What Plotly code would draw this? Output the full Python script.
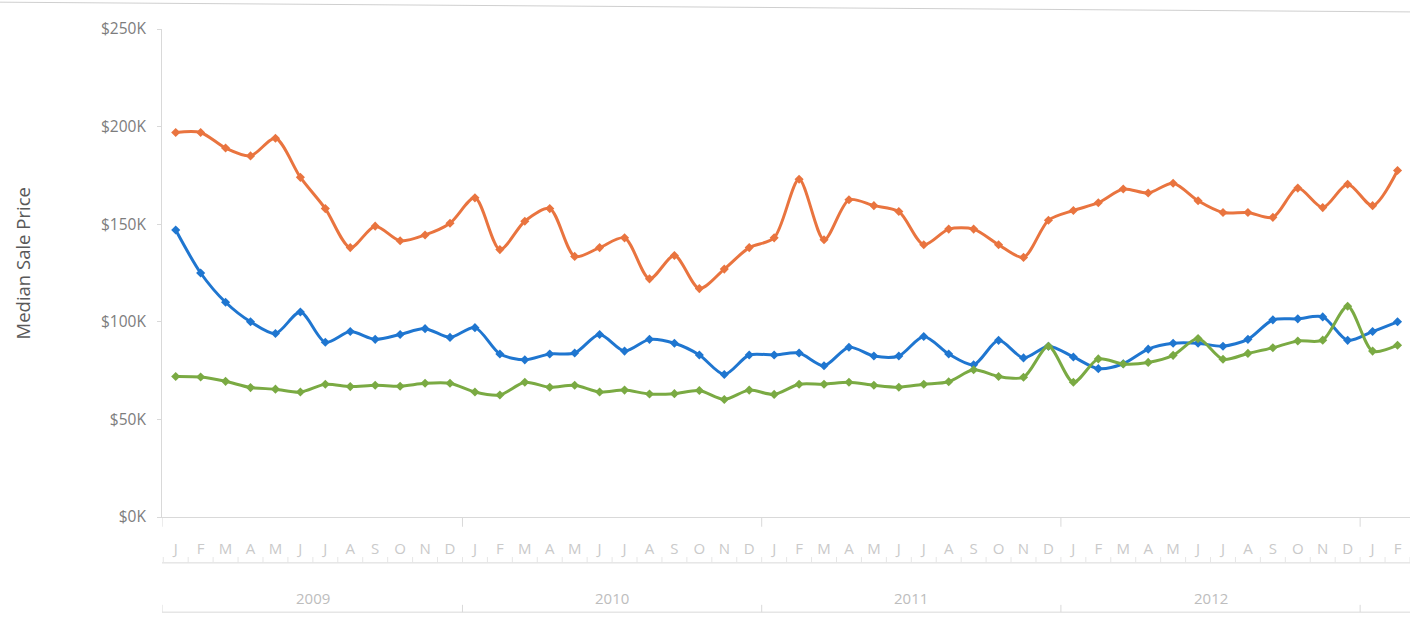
import plotly.graph_objects as go

# ---- data (values in $K) ----
months = ["J","F","M","A","M","J","J","A","S","O","N","D"] * 4 + ["J","F"]
years = ["2009"] * 12 + ["2010"] * 12 + ["2011"] * 12 + ["2012"] * 12 + ["2013"] * 2
year_labels = ["2009", "2010", "2011", "2012"]

orange = [197, 197, 189, 185, 194, 174, 158, 138, 149, 141.5, 144.5, 150.5,
          163.5, 137, 151.5, 158, 133.5, 138, 143, 122, 134, 117, 127, 138,
          143, 173, 142, 162.5, 159.5, 156.5, 139.5, 147.5, 147.5, 139.5, 133, 152,
          157, 161, 168, 166, 171, 162, 156, 156, 153.5, 168.5, 158.5, 170.5,
          159.5, 177.5]
blue = [147, 125, 110, 100, 94, 105, 89.5, 95, 91, 93.5, 96.5, 92,
        97, 83.5, 80.5, 83.5, 84, 93.5, 85, 91, 89, 83, 73, 83,
        83, 84, 77.5, 87, 82.5, 82.5, 92.5, 83.5, 78, 90.5, 81.5, 87.5,
        82, 76, 78.5, 86, 89, 89, 87.5, 91, 101, 101.5, 102.5, 90.5,
        95, 100]
green = [72, 71.7, 69.5, 66.3, 65.5, 64, 68, 66.8, 67.5, 67, 68.5, 68.5,
         64, 62.5, 69, 66.5, 67.5, 64, 65, 63, 63.2, 64.8, 60.2, 65,
         62.8, 68, 68, 69, 67.5, 66.5, 68, 69.3, 75.4, 72, 71.6, 87.5,
         69, 81, 78.4, 79.2, 82.8, 91.4, 80.8, 83.8, 86.7, 90.2, 90.6, 108,
         85, 88]

x = list(range(len(months)))

series = [
    ("Orange", orange, "#E9743F"),
    ("Blue", blue, "#1F76D0"),
    ("Green", green, "#7AAA43"),
]

fig = go.Figure()
for name, vals, col in series:
    fig.add_trace(go.Scatter(
        x=x, y=vals, name=name, mode="lines+markers",
        line=dict(color=col, width=3, shape="spline", smoothing=0.8),
        marker=dict(symbol="diamond", size=7, color=col),
        showlegend=False,
    ))

axis_grey = "#d9d9d9"
fig.update_layout(
    width=1428, height=625,
    margin=dict(l=162, r=18, t=29, b=108),
    paper_bgcolor="white", plot_bgcolor="white",
    font=dict(family="Open Sans", color="#808080"),
    xaxis=dict(
        range=[-0.55, len(x) - 0.5],
        tickmode="array", tickvals=x, ticktext=months,
        showgrid=False, zeroline=False,
        showline=True, linecolor=axis_grey, linewidth=1,
        ticks="", ticklabelstandoff=18,
        tickfont=dict(size=15, color="#cacaca"),
    ),
    yaxis=dict(
        range=[0, 250], dtick=50,
        tickprefix="$", ticksuffix="K",
        showgrid=False, zeroline=False,
        showline=True, linecolor=axis_grey, linewidth=1,
        ticks="outside", ticklen=4, tickcolor=axis_grey,
        ticklabelstandoff=8,
        tickfont=dict(size=15.5, color="#7d7d7d"),
    ),
)

fig.add_annotation(text="Median Sale Price", xref="paper", yref="paper",
                   x=-0.112, y=0.52, textangle=-90, showarrow=False,
                   xanchor="center", yanchor="middle",
                   font=dict(size=18.5, color="#595959"))

# category axis decorations: separators and year labels
shapes = []
line_style = dict(color=axis_grey, width=1)
shapes.append(dict(type="line", xref="x", yref="paper", x0=-0.55, x1=len(x) - 0.5,
                   y0=-0.094, y1=-0.094, line=line_style))
shapes.append(dict(type="line", xref="x", yref="paper", x0=-0.55, x1=len(x) - 0.5,
                   y0=-0.195, y1=-0.195, line=line_style))
bounds = [i - 0.5 for i in range(1, len(years)) if years[i] != years[i - 1]]
for b in [-0.55] + bounds:
    shapes.append(dict(type="line", xref="x", yref="paper", x0=b, x1=b,
                       y0=0, y1=-0.02, line=line_style))
    shapes.append(dict(type="line", xref="x", yref="paper", x0=b, x1=b,
                       y0=-0.195, y1=-0.18, line=line_style))
for i in range(len(x) + 1):
    shapes.append(dict(type="line", xref="x", yref="paper", x0=i - 0.5, x1=i - 0.5,
                       y0=-0.094, y1=-0.082, line=dict(color="#e6e6e6", width=1)))
# faint remnant line at top (scan artifact)
shapes.append(dict(type="line", xref="paper", yref="paper", x0=-0.3, x1=1.0,
                   y0=1.058, y1=1.035, line=dict(color="#cfcfcf", width=1)))
fig.update_layout(shapes=shapes)

for yl in year_labels:
    idx = [i for i, yv in enumerate(years) if yv == yl]
    fig.add_annotation(x=(idx[0] + idx[-1]) / 2, y=-0.167, xref="x", yref="paper",
                       xanchor="center", yanchor="middle",
                       text=yl, showarrow=False, font=dict(size=15, color="#bdbdbd"))

fig.write_html("out.html")
